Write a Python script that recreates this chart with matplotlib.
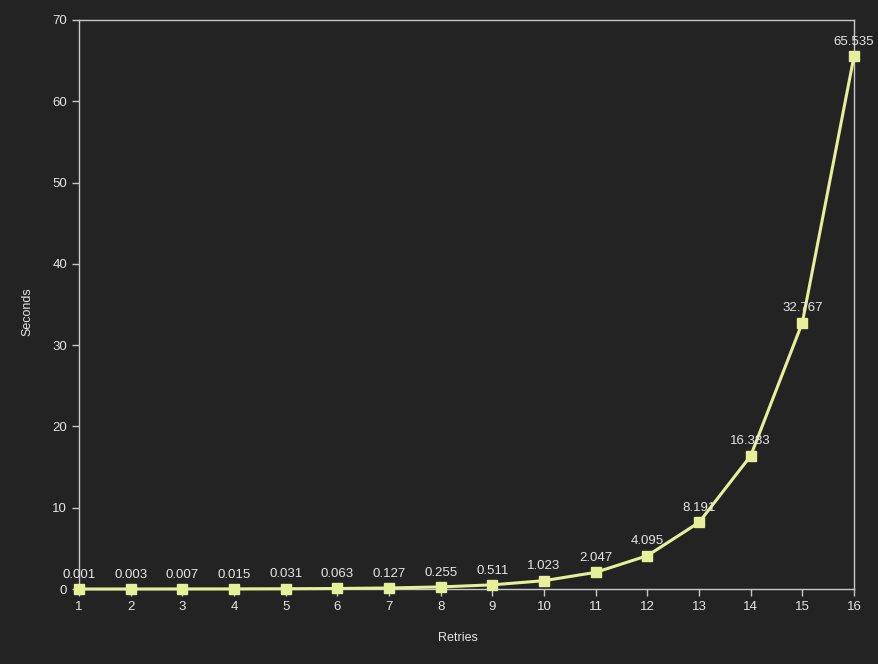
import matplotlib
matplotlib.use("Agg")
import matplotlib.pyplot as plt

retries = list(range(1, 17))
seconds = [0.001, 0.003, 0.007, 0.015, 0.031, 0.063, 0.127, 0.255, 0.511,
           1.023, 2.047, 4.095, 8.191, 16.383, 32.767, 65.535]
labels = ["0.001", "0.003", "0.007", "0.015", "0.031", "0.063", "0.127", "0.255", "0.511",
          "1.023", "2.047", "4.095", "8.191", "16.383", "32.767", "65.535"]
yticks = [0, 10, 20, 30, 40, 50, 60, 70]

plt.rcParams['font.family'] = ['Liberation Sans', 'DejaVu Sans']
bg = '#232323'
fg = '#e6e6e6'
axc = '#c8c8c8'
linec = '#e6ef9a'

fig = plt.figure(figsize=(8.79, 6.64), dpi=100, facecolor=bg)
ax = fig.add_axes([79/879, 1 - 589/664, (854-79)/879, (589-20)/664])
ax.set_facecolor(bg)
ax.plot(retries, seconds, color=linec, lw=2.2, marker='s', ms=7.5,
        mfc=linec, mec=linec, zorder=3, clip_on=False)
for x, y, t in zip(retries, seconds, labels):
    ax.annotate(t, (x, y), xytext=(0, 6), textcoords='offset points',
                ha='center', va='bottom', color=fg, fontsize=9.5, zorder=4)
ax.set_xlim(1, 16)
ax.set_ylim(0, 70)
ax.set_xticks(retries)
ax.set_yticks(yticks)
for s in ax.spines.values():
    s.set_color(axc)
    s.set_linewidth(1)
ax.tick_params(colors=axc, labelcolor=fg, labelsize=9.5, length=5, width=1)
ax.set_xlabel('Retries', color=fg, fontsize=9)
ax.set_ylabel('Seconds', color=fg, fontsize=9)
ax.xaxis.set_label_coords(0.489, -0.086)
ax.yaxis.set_label_coords(-0.067, 0.487)
ax.xaxis.label.set_va('center')
ax.yaxis.label.set_va('center')
fig.savefig('out.png', dpi=100, facecolor=bg)
